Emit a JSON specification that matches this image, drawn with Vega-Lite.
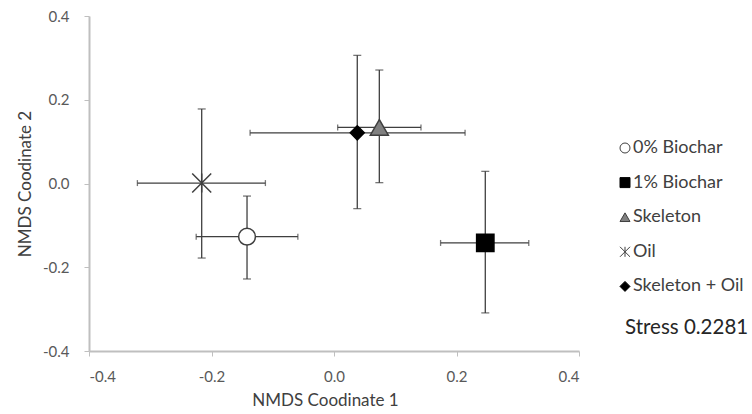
{
  "$schema": "https://vega.github.io/schema/vega-lite/v6.json",
  "width": 490,
  "height": 335,
  "autosize": "none",
  "padding": {"left": 89, "top": 16, "right": 173, "bottom": 63},
  "background": "white",
  "config": {
    "view": {"stroke": null},
    "font": "Lato",
    "axis": {
      "grid": false,
      "domainColor": "#bfbfbf",
      "domainWidth": 2,
      "tickColor": "#bfbfbf",
      "tickSize": 5,
      "tickWidth": 1,
      "labelFont": "Lato",
      "labelFontSize": 15,
      "labelColor": "#595959",
      "titleFont": "Lato",
      "titleFontSize": 17,
      "titleFontWeight": "normal",
      "titleColor": "#404040",
      "labelExpr": "datum.value < 0 ? '-' + format(-datum.value, '.1f') : format(datum.value, '.1f')"
    }
  },
  "title": {
    "text": "Stress 0.2281",
    "anchor": "end",
    "frame": "group",
    "align": "left",
    "baseline": "middle",
    "offset": 0,
    "dx": 46,
    "dy": 339,
    "fontSize": 20.5,
    "fontWeight": "normal",
    "font": "Lato",
    "color": "#262626"
  },
  "data": {
    "values": [
      {"group": "0% Biochar", "x": -0.142, "y": -0.127, "xlo": -0.225, "xhi": -0.059, "ylo": -0.228, "yhi": -0.030},
      {"group": "1% Biochar", "x": 0.247, "y": -0.142, "xlo": 0.174, "xhi": 0.318, "ylo": -0.309, "yhi": 0.029},
      {"group": "Oil", "x": -0.216, "y": 0.001, "xlo": -0.321, "xhi": -0.112, "ylo": -0.178, "yhi": 0.178},
      {"group": "Skeleton + Oil", "x": 0.038, "y": 0.121, "xlo": -0.137, "xhi": 0.214, "ylo": -0.060, "yhi": 0.306},
      {"group": "Skeleton", "x": 0.074, "y": 0.134, "xlo": 0.006, "xhi": 0.142, "ylo": 0.002, "yhi": 0.271}
    ]
  },
  "encoding": {
    "x": {
      "field": "x", "type": "quantitative",
      "scale": {"domain": [-0.4, 0.4], "nice": false, "zero": false},
      "axis": {"values": [-0.4, -0.2, 0, 0.2, 0.4], "title": "NMDS Coodinate 1", "labelPadding": 13, "titlePadding": 8, "titleX": 236}
    },
    "y": {
      "field": "y", "type": "quantitative",
      "scale": {"domain": [-0.4, 0.4], "nice": false, "zero": false},
      "axis": {"values": [-0.4, -0.2, 0, 0.2, 0.4], "title": "NMDS Coodinate 2", "labelPadding": 15, "titlePadding": 8}
    }
  },
  "layer": [
    {
      "mark": {"type": "rule", "color": "#3f3f3f", "strokeWidth": 1.3},
      "encoding": {"x": {"field": "xlo", "type": "quantitative"}, "x2": {"field": "xhi"}}
    },
    {
      "mark": {"type": "rule", "color": "#3f3f3f", "strokeWidth": 1.3},
      "encoding": {"y": {"field": "ylo", "type": "quantitative"}, "y2": {"field": "yhi"}}
    },
    {
      "mark": {"type": "tick", "orient": "vertical", "color": "#3f3f3f", "size": 6, "thickness": 1.3},
      "encoding": {"x": {"field": "xlo", "type": "quantitative"}}
    },
    {
      "mark": {"type": "tick", "orient": "vertical", "color": "#3f3f3f", "size": 6, "thickness": 1.3},
      "encoding": {"x": {"field": "xhi", "type": "quantitative"}}
    },
    {
      "mark": {"type": "tick", "orient": "horizontal", "color": "#3f3f3f", "size": 8, "thickness": 1.3},
      "encoding": {"y": {"field": "ylo", "type": "quantitative"}}
    },
    {
      "mark": {"type": "tick", "orient": "horizontal", "color": "#3f3f3f", "size": 8, "thickness": 1.3},
      "encoding": {"y": {"field": "yhi", "type": "quantitative"}}
    },
    {
      "mark": {"type": "point", "filled": true, "opacity": 1, "strokeWidth": 1.5},
      "encoding": {
        "shape": {
          "field": "group", "type": "nominal", "title": null,
          "scale": {
            "domain": ["0% Biochar", "1% Biochar", "Skeleton", "Oil", "Skeleton + Oil"],
            "range": ["circle", "square", "triangle-up", "M-1,-1L1,1M-1,1L1,-1M0,-1L0,1", "diamond"]
          },
          "legend": {
            "orient": "none",
            "legendX": 527,
            "legendY": 123,
            "padding": 0,
            "symbolSize": 100,
            "symbolStrokeWidth": 1,
            "labelFont": "Lato",
            "labelFontSize": 18,
            "labelLimit": 220,
            "labelColor": "#404040",
            "labelOffset": -1,
            "rowPadding": 16.6
          }
        },
        "fill": {
          "field": "group", "type": "nominal", "title": null,
          "scale": {
            "domain": ["0% Biochar", "1% Biochar", "Skeleton", "Oil", "Skeleton + Oil"],
            "range": ["#ffffff", "#000000", "#808080", "#ffffff", "#000000"]
          }
        },
        "stroke": {
          "field": "group", "type": "nominal", "title": null,
          "scale": {
            "domain": ["0% Biochar", "1% Biochar", "Skeleton", "Oil", "Skeleton + Oil"],
            "range": ["#3f3f3f", "#000000", "#3f3f3f", "#3f3f3f", "#000000"]
          }
        },
        "size": {
          "condition": [
            {"test": "datum.group === '0% Biochar'", "value": 282},
            {"test": "datum.group === '1% Biochar'", "value": 300},
            {"test": "datum.group === 'Skeleton'", "value": 324},
            {"test": "datum.group === 'Oil'", "value": 361}
          ],
          "value": 196
        }
      }
    }
  ]
}
